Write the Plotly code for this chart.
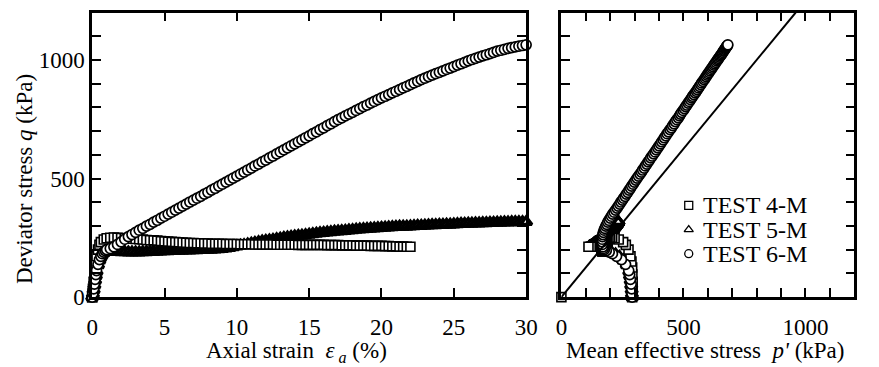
import plotly.graph_objects as go

# ---------------- data ----------------
# TEST 4-M : axial strain (%), deviator stress q (kPa), mean effective stress p' (kPa)
t4_strain = [0, 0, 0.02, 0.05, 0.1, 0.15, 0.2, 0.25, 0.3, 0.4, 0.5, 0.6, 0.8,
             1.0, 1.25, 1.5, 1.75, 2.0, 2.25, 2.5, 2.75, 3.0, 3.25, 3.5, 3.75,
             4.0, 4.25, 4.5, 4.75, 5.0, 5.25, 5.5, 5.75, 6.0, 6.25, 6.5, 6.75,
             7.0, 7.25, 7.5, 7.75, 8.0, 8.25, 8.5, 8.75, 9.0, 9.25, 9.5, 9.75,
             10.0, 10.25, 10.5, 10.75, 11.0, 11.25, 11.5, 11.75, 12.0, 12.25, 12.5, 12.75,
             13.0, 13.25, 13.5, 13.75, 14.0, 14.25, 14.5, 14.75, 15.0, 15.25, 15.5, 15.75,
             16.0, 16.25, 16.5, 16.75, 17.0, 17.25, 17.5, 17.75, 18.0, 18.25, 18.5, 18.75,
             19.0, 19.25, 19.5, 19.75, 20.0, 20.25, 20.5, 20.75, 21.0, 21.25, 21.5, 21.75,
             22.0]
t4_q = [0, 0, 15, 35, 65, 95, 125, 150, 172, 200, 220, 232, 243,
        248, 250, 251, 250, 249, 248, 247, 246, 245, 244, 243, 241,
        240, 239, 238, 236, 235, 234, 233, 232, 231, 230, 229, 228,
        228, 227, 227, 226, 226, 225, 225, 225, 225, 224, 224, 224,
        224, 223, 223, 223, 223, 222, 222, 222, 222, 222, 222, 221,
        221, 221, 221, 221, 221, 220, 220, 220, 220, 220, 220, 220,
        220, 219, 219, 219, 219, 218, 218, 218, 218, 217, 217, 217,
        217, 216, 216, 216, 216, 215, 215, 214, 214, 213, 213, 212,
        212]
t4_p = [0, 290, 291, 292, 292, 291, 290, 287, 283, 275, 264, 253, 235,
        218, 208, 200, 193, 187, 182, 178, 174, 171, 168, 166, 164,
        162, 160, 158, 156, 155, 153, 152, 151, 150, 149, 148, 147,
        147, 146, 146, 145, 145, 144, 144, 143, 143, 142, 142, 141,
        141, 141, 140, 140, 140, 139, 139, 139, 139, 138, 138, 138,
        138, 137, 137, 137, 137, 136, 136, 136, 136, 135, 135, 135,
        135, 134, 134, 134, 134, 133, 133, 133, 133, 132, 132, 132,
        132, 131, 131, 131, 131, 130, 130, 129, 128, 126, 124, 120,
        111]

# TEST 5-M
t5_strain = [0, 0.05, 0.1, 0.15, 0.2, 0.25, 0.3, 0.4, 0.5, 0.6, 0.7, 0.8, 0.9,
             1.0, 1.25, 1.5, 1.75, 2.0, 2.25, 2.5, 2.75, 3.0, 3.25, 3.5, 3.75,
             4.0, 4.25, 4.5, 4.75, 5.0, 5.25, 5.5, 5.75, 6.0, 6.25, 6.5, 6.75,
             7.0, 7.25, 7.5, 7.75, 8.0, 8.25, 8.5, 8.75, 9.0, 9.25, 9.5, 9.75,
             10.0, 10.25, 10.5, 10.75, 11.0, 11.25, 11.5, 11.75, 12.0, 12.25, 12.5, 12.75,
             13.0, 13.25, 13.5, 13.75, 14.0, 14.25, 14.5, 14.75, 15.0, 15.25, 15.5, 15.75,
             16.0, 16.25, 16.5, 16.75, 17.0, 17.25, 17.5, 17.75, 18.0, 18.25, 18.5, 18.75,
             19.0, 19.25, 19.5, 19.75, 20.0, 20.25, 20.5, 20.75, 21.0, 21.25, 21.5, 21.75,
             22.0, 22.25, 22.5, 22.75, 23.0, 23.25, 23.5, 23.75, 24.0, 24.25, 24.5, 24.75,
             25.0, 25.25, 25.5, 25.75, 26.0, 26.25, 26.5, 26.75, 27.0, 27.25, 27.5, 27.75,
             28.0, 28.25, 28.5, 28.75, 29.0, 29.25, 29.5, 29.75, 30.0]
t5_q = [0, 12, 30, 50, 70, 90, 108, 135, 155, 170, 180, 187, 191,
        192, 192, 191, 191, 190, 190, 189, 189, 189, 189, 190, 190,
        191, 191, 192, 193, 194, 194, 195, 195, 196, 196, 197, 197,
        198, 198, 199, 199, 200, 201, 202, 203, 204, 206, 208, 211,
        214, 217, 220, 223, 226, 229, 232, 235, 237, 240, 242, 245,
        247, 250, 252, 254, 256, 258, 260, 262, 264, 266, 268, 270,
        271, 273, 274, 276, 277, 279, 280, 282, 283, 285, 286, 287,
        288, 289, 290, 291, 292, 293, 294, 295, 296, 297, 298, 298,
        299, 300, 301, 301, 302, 303, 304, 304, 305, 305, 306, 306,
        307, 308, 309, 309, 310, 310, 311, 311, 312, 312, 313, 313,
        314, 314, 315, 315, 316, 316, 316, 317, 317]
t5_p = [290, 289, 288, 286, 284, 281, 278, 268, 254, 238, 222, 207, 195,
        185, 181, 178, 176, 174, 173, 172, 171, 171, 171, 171, 171,
        171, 171, 171, 172, 172, 172, 172, 172, 172, 173, 173, 173,
        173, 174, 174, 174, 174, 175, 175, 176, 176, 176, 177, 178,
        179, 180, 181, 182, 183, 184, 185, 186, 187, 188, 189, 190,
        191, 192, 193, 194, 195, 196, 197, 198, 199, 200, 201, 202,
        203, 204, 205, 206, 207, 208, 209, 209, 210, 211, 212, 212,
        213, 214, 215, 215, 216, 216, 217, 218, 219, 219, 220, 220,
        221, 221, 222, 222, 223, 223, 224, 224, 225, 225, 226, 226,
        227, 227, 228, 228, 229, 229, 229, 230, 230, 230, 231, 231,
        231, 232, 232, 232, 232, 233, 233, 233, 233]

# TEST 6-M
t6_strain = [0, 0.05, 0.1, 0.15, 0.2, 0.25, 0.3, 0.4, 0.5, 0.6, 0.7, 0.8, 0.9,
             1.0, 1.25, 1.5, 1.75, 2.0, 2.25, 2.5, 2.75, 3.0, 3.25, 3.5, 3.75,
             4.0, 4.25, 4.5, 4.75, 5.0, 5.25, 5.5, 5.75, 6.0, 6.25, 6.5, 6.75,
             7.0, 7.25, 7.5, 7.75, 8.0, 8.25, 8.5, 8.75, 9.0, 9.25, 9.5, 9.75,
             10.0, 10.25, 10.5, 10.75, 11.0, 11.25, 11.5, 11.75, 12.0, 12.25, 12.5, 12.75,
             13.0, 13.25, 13.5, 13.75, 14.0, 14.25, 14.5, 14.75, 15.0, 15.25, 15.5, 15.75,
             16.0, 16.25, 16.5, 16.75, 17.0, 17.25, 17.5, 17.75, 18.0, 18.25, 18.5, 18.75,
             19.0, 19.25, 19.5, 19.75, 20.0, 20.25, 20.5, 20.75, 21.0, 21.25, 21.5, 21.75,
             22.0, 22.25, 22.5, 22.75, 23.0, 23.25, 23.5, 23.75, 24.0, 24.25, 24.5, 24.75,
             25.0, 25.25, 25.5, 25.75, 26.0, 26.25, 26.5, 26.75, 27.0, 27.25, 27.5, 27.75,
             28.0, 28.25, 28.5, 28.75, 29.0, 29.25, 29.5, 29.75, 30.0]
t6_q = [0, 15, 35, 55, 75, 95, 112, 138, 158, 172, 183, 190, 196,
        200, 205, 212, 222, 233, 244, 255, 264, 273, 282, 290, 299,
        307, 316, 324, 333, 341, 350, 358, 367, 375, 384, 392, 401,
        409, 417, 425, 434, 442, 451, 459, 468, 476, 485, 493, 502,
        510, 519, 527, 536, 544, 553, 561, 570, 578, 587, 595, 604,
        612, 621, 629, 638, 646, 655, 663, 672, 680, 689, 697, 706,
        714, 723, 731, 740, 748, 756, 764, 772, 779, 787, 795, 803,
        810, 818, 825, 833, 840, 847, 854, 861, 868, 875, 882, 889,
        896, 903, 910, 917, 923, 930, 936, 942, 948, 954, 960, 966,
        972, 978, 984, 990, 996, 1002, 1007, 1012, 1017, 1022, 1027, 1032,
        1037, 1041, 1045, 1049, 1052, 1055, 1058, 1061, 1064]
t6_p = [290, 289, 288, 286, 283, 280, 276, 263, 246, 226, 209, 196, 184,
        176, 172, 170, 168, 167, 167, 168, 170, 172, 175, 178, 182,
        186, 190, 195, 200, 205, 210, 216, 222, 228, 233, 239, 244,
        250, 255, 261, 266, 272, 277, 283, 288, 294, 299, 305, 310,
        316, 322, 328, 333, 339, 344, 350, 355, 361, 366, 372, 378,
        384, 389, 395, 400, 406, 411, 417, 422, 428, 433, 439, 445,
        451, 456, 462, 467, 473, 479, 484, 488, 493, 499, 504, 509,
        514, 519, 524, 529, 534, 538, 543, 548, 553, 557, 562, 566,
        571, 575, 580, 585, 589, 593, 597, 601, 605, 609, 613, 617,
        621, 625, 629, 633, 637, 641, 644, 648, 651, 655, 658, 661,
        664, 667, 670, 672, 674, 676, 678, 680, 682]

# critical state line in p'-q plane
csl_p = [0, 960]
csl_q = [0, 1200]

# tick labels
strain_ticks = [0, 5, 10, 15, 20, 25, 30]
q_ticks = [0, 100, 200, 300, 400, 500, 600, 700, 800, 900, 1000, 1100, 1200]
q_labels = ["0", "", "", "", "", "500", "", "", "", "", "1000", "", ""]
p_ticks = [0, 100, 200, 300, 400, 500, 600, 700, 800, 900, 1000, 1100, 1200]
p_labels = ["0", "", "", "", "", "500", "", "", "", "", "1000", "", ""]

legend_names = ["TEST 4-M", "TEST 5-M", "TEST 6-M"]

# ---------------- figure ----------------
W, H = 879, 367
FONT = "Liberation Serif"
FS = 23

def px_x(v):
    return v / W

def px_y(v):
    return 1 - v / H

fig = go.Figure()

styles = {
    "TEST 4-M": dict(symbol="square", size=9, lw=1.6),
    "TEST 5-M": dict(symbol="triangle-up", size=10, lw=3.4),
    "TEST 6-M": dict(symbol="circle", size=10, lw=1.7),
}
series = {
    "TEST 4-M": (t4_strain, t4_q, t4_p),
    "TEST 5-M": (t5_strain, t5_q, t5_p),
    "TEST 6-M": (t6_strain, t6_q, t6_p),
}
for name in ["TEST 5-M", "TEST 4-M", "TEST 6-M"]:
    e, q, p = series[name]
    st = styles[name]
    mk = dict(symbol=st["symbol"], size=st["size"], color="white",
              line=dict(color="black", width=st["lw"]))
    fig.add_trace(go.Scatter(x=e, y=q, mode="markers", marker=mk, name=name,
                             showlegend=False, cliponaxis=False, xaxis="x", yaxis="y"))
    fig.add_trace(go.Scatter(x=p, y=q, mode="markers", marker=mk, name=name,
                             showlegend=False, cliponaxis=False, xaxis="x2", yaxis="y2"))

fig.add_trace(go.Scatter(x=csl_p, y=csl_q, mode="lines",
                         line=dict(color="black", width=2),
                         showlegend=False, xaxis="x2", yaxis="y2"))

# legend keys (drawn on a small hidden axis inside the right panel)
for i, name in enumerate(legend_names):
    st = styles[name]
    fig.add_trace(go.Scatter(x=[0], y=[i], mode="markers", name=name, showlegend=False,
                             marker=dict(symbol=st["symbol"], size=8, color="white",
                                         line=dict(color="black", width=1.3)),
                             xaxis="x3", yaxis="y3", hoverinfo="skip"))
    fig.add_annotation(text=name, xref="paper", yref="paper",
                       x=px_x(710), y=px_y(213 + 25 * i), xanchor="left", yanchor="middle",
                       showarrow=False, font=dict(family=FONT, size=24, color="black"))

axis_common = dict(showline=True, linecolor="black", linewidth=2.5, mirror="allticks",
                   ticks="inside", ticklen=9, tickwidth=2.2, tickcolor="black",
                   showgrid=False, zeroline=False,
                   tickfont=dict(family=FONT, size=FS, color="black"))

fig.update_layout(
    width=W, height=H,
    margin=dict(l=0, r=0, t=0, b=0),
    paper_bgcolor="white", plot_bgcolor="white",
    font=dict(family=FONT, size=FS, color="black"),
    showlegend=False,
    xaxis=dict(domain=[px_x(88), px_x(531)], range=[0, 30], ticklabelstandoff=8,
               tickmode="array", tickvals=strain_ticks, **axis_common),
    yaxis=dict(domain=[px_y(308), px_y(13)], range=[0, 1200],
               tickmode="array", tickvals=q_ticks, ticktext=q_labels, **axis_common),
    xaxis2=dict(domain=[px_x(567), px_x(866)], range=[0, 1200], anchor="y2",
                ticklabelstandoff=8,
                tickmode="array", tickvals=p_ticks, ticktext=p_labels, **axis_common),
    yaxis2=dict(domain=[px_y(308), px_y(13)], range=[0, 1200], anchor="x2",
                tickmode="array", tickvals=q_ticks, showticklabels=False, **axis_common),
    xaxis3=dict(domain=[px_x(687), px_x(707)], range=[-1, 1], anchor="y3", visible=False,
                fixedrange=True),
    yaxis3=dict(domain=[px_y(275.5), px_y(200.5)], range=[2.5, -0.5], anchor="x3",
                visible=False, fixedrange=True),
)

fig.add_annotation(text="Axial strain  <i>ε</i><sub><i> a</i></sub> (%)",
                   xref="paper", yref="paper", x=px_x(297), y=px_y(365),
                   xanchor="center", yanchor="middle", showarrow=False,
                   font=dict(family=FONT, size=FS, color="black"))
fig.add_annotation(text="Mean effective stress  <i>p'</i> (kPa)",
                   xref="paper", yref="paper", x=px_x(714), y=px_y(363),
                   xanchor="center", yanchor="middle", showarrow=False,
                   font=dict(family=FONT, size=FS, color="black"))
fig.add_annotation(text="Deviator stress <i>q</i> (kPa)",
                   xref="paper", yref="paper", x=px_x(19), y=px_y(186),
                   xanchor="center", yanchor="middle", showarrow=False, textangle=-90,
                   font=dict(family=FONT, size=FS, color="black"))

fig.write_html("out.html")
